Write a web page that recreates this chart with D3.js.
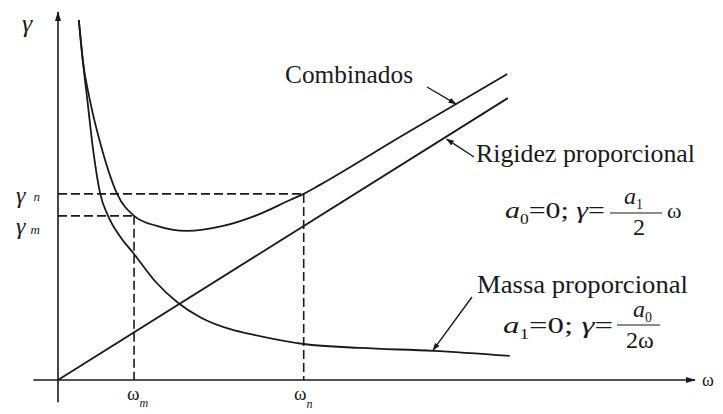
<!DOCTYPE html>
<html>
<head>
<meta charset="utf-8">
<script src="https://cdn.jsdelivr.net/npm/d3@7"></script>
<style>
  html, body { margin: 0; padding: 0; background: #fff; }
  svg { display: block; }
</style>
</head>
<body>
<svg id="chart" width="723" height="414"></svg>
<script>
// Rayleigh damping: mass-proportional, stiffness-proportional and combined ratio vs frequency
const massOmega = [0.32, 0.38, 0.45, 0.54, 0.65, 0.77, 0.95, 1.17, 1.49, 1.85, 2.18, 2.69, 2.95, 3.78, 4.65, 5.77, 6.95];
const massGamma = [10.0, 8.9, 7.8, 6.4, 5.17, 4.56, 4.0, 3.5, 2.75, 2.14, 1.75, 1.39, 1.28, 1.0, 0.89, 0.81, 0.67];

const combOmega = [0.32, 0.38, 0.49, 0.68, 0.91, 1.17, 1.52, 1.98, 2.54, 3.06, 3.57, 3.78, 4.03, 5.26, 6.91];
const combGamma = [10.0, 8.9, 7.78, 6.39, 5.17, 4.56, 4.28, 4.14, 4.28, 4.58, 5.0, 5.17, 5.42, 6.75, 8.5];

const stiffOmega = [0, 6.92];
const stiffGamma = [0, 7.83];

// reference frequencies and damping values
const omegaM = 1.17, omegaN = 3.78;
const gammaM = 4.56, gammaN = 5.17;

const svg = d3.select("#chart");
const ink = "#1a1a1a";
const serif = "'Liberation Serif', 'Times New Roman', Tinos, 'Noto Serif', 'DejaVu Serif', serif";

const x = d3.scaleLinear().domain([0, 10]).range([58, 708]);
const y = d3.scaleLinear().domain([0, 10]).range([380, 20]);

const defs = svg.append("defs");
defs.append("marker")
  .attr("id", "tip").attr("viewBox", "0 0 10 10")
  .attr("refX", 9).attr("refY", 5)
  .attr("markerWidth", 8).attr("markerHeight", 8)
  .attr("markerUnits", "userSpaceOnUse")
  .attr("orient", "auto")
  .append("path").attr("d", "M0,1.5 L10,5 L0,8.5 Z").attr("fill", ink);

defs.append("marker")
  .attr("id", "axisTip").attr("viewBox", "0 0 10 10")
  .attr("refX", 9).attr("refY", 5)
  .attr("markerWidth", 10).attr("markerHeight", 10)
  .attr("markerUnits", "userSpaceOnUse")
  .attr("orient", "auto")
  .append("path").attr("d", "M0,2 L10,5 L0,8 Z").attr("fill", ink);

// axes
svg.append("line")
  .attr("x1", x(-0.38)).attr("y1", y(0)).attr("x2", x(9.8)).attr("y2", y(0))
  .attr("stroke", ink).attr("stroke-width", 1.6).attr("marker-end", "url(#axisTip)");
svg.append("line")
  .attr("x1", x(0)).attr("y1", y(-0.62)).attr("x2", x(0)).attr("y2", y(10.22))
  .attr("stroke", ink).attr("stroke-width", 1.6).attr("marker-end", "url(#axisTip)");

// dashed guides
const dash = "9,4";
const guides = [
  [0, gammaN, omegaN, gammaN],
  [omegaN, gammaN, omegaN, 0],
  [0, gammaM, omegaM, gammaM],
  [omegaM, gammaM, omegaM, 0]
];
svg.selectAll("line.guide").data(guides).enter().append("line")
  .attr("class", "guide")
  .attr("x1", d => x(d[0])).attr("y1", d => y(d[1]))
  .attr("x2", d => x(d[2])).attr("y2", d => y(d[3]))
  .attr("stroke", ink).attr("stroke-width", 1.6).attr("stroke-dasharray", dash);

// curves
const line = d3.line().x(d => x(d[0])).y(d => y(d[1])).curve(d3.curveMonotoneX);
const zip = (a, b) => a.map((v, i) => [v, b[i]]);

svg.append("path").datum(zip(massOmega, massGamma)).attr("d", line)
  .attr("fill", "none").attr("stroke", ink).attr("stroke-width", 1.8);
svg.append("path").datum(zip(combOmega, combGamma)).attr("d", line)
  .attr("fill", "none").attr("stroke", ink).attr("stroke-width", 1.8);
svg.append("path").datum(zip(stiffOmega, stiffGamma)).attr("d", d3.line().x(d => x(d[0])).y(d => y(d[1])))
  .attr("fill", "none").attr("stroke", ink).attr("stroke-width", 1.8);

// leader arrows: start in pixels at the label, tip on the curve (data units)
const leaders = [
  { from: [427, 87], to: [6.12, 7.67] },
  { from: [474, 157], to: [5.98, 6.69] },
  { from: [472, 297], to: [5.77, 0.83] }
];
svg.selectAll("line.leader").data(leaders).enter().append("line")
  .attr("class", "leader")
  .attr("x1", d => d.from[0]).attr("y1", d => d.from[1])
  .attr("x2", d => x(d.to[0])).attr("y2", d => y(d.to[1]))
  .attr("stroke", ink).attr("stroke-width", 1.4).attr("marker-end", "url(#tip)");

// labels
function label(px, py, size, parts, width) {
  const t = svg.append("text").attr("x", px).attr("y", py)
    .attr("font-size", size).attr("font-family", serif).attr("fill", ink);
  parts.forEach(p => {
    const s = t.append("tspan").text(p.t);
    if (p.i) s.attr("font-style", "italic");
    if (p.s) s.attr("font-size", p.s);
    if (p.dy) s.attr("dy", p.dy);
    if (p.dx) s.attr("dx", p.dx);
  });
  if (width) t.attr("textLength", width).attr("lengthAdjust", "spacingAndGlyphs");
  return t;
}

label(285, 83, 25, [{ t: "Combinados" }], 128);
label(476, 162, 25, [{ t: "Rigidez proporcional" }], 219);
label(477, 293, 25, [{ t: "Massa proporcional" }], 211);

// axis names
label(22, 32, 26, [{ t: "γ", i: true }]);
label(702, 386, 18, [{ t: "ω" }]);

// guide names
label(16, 203, 24, [{ t: "γ", i: true }, { t: "n", i: true, s: 13, dx: 8, dy: -2 }]);
label(16, 234, 24, [{ t: "γ", i: true }, { t: "m", i: true, s: 13, dx: 5 }]);
label(127, 400, 19, [{ t: "ω" }, { t: "m", i: true, s: 12, dy: 7 }]);
label(294, 400, 19, [{ t: "ω" }, { t: "n", i: true, s: 12, dy: 8 }]);

// stiffness-proportional formula
label(505, 218, 24, [{ t: "a", i: true }, { t: "0", s: 14, dy: 6 }, { t: "=0; ", dy: -6 }, { t: "γ", i: true }, { t: "=" }], 100);
svg.append("line").attr("x1", 610).attr("x2", 662).attr("y1", 213).attr("y2", 213)
  .attr("stroke", ink).attr("stroke-width", 1.2);
label(624, 204, 24, [{ t: "a", i: true }, { t: "1", s: 14, dy: 5 }]);
label(633, 235, 24, [{ t: "2" }]);
label(667, 218, 22, [{ t: "ω" }]);

// mass-proportional formula
label(503, 333, 24, [{ t: "a", i: true }, { t: "1", s: 14, dy: 6 }, { t: "=0; ", dy: -6 }, { t: "γ", i: true }, { t: "=" }], 110);
svg.append("line").attr("x1", 617).attr("x2", 660).attr("y1", 325).attr("y2", 325)
  .attr("stroke", ink).attr("stroke-width", 1.2);
label(633, 317, 24, [{ t: "a", i: true }, { t: "0", s: 14, dy: 5 }]);
label(626, 348, 24, [{ t: "2ω" }]);
</script>
</body>
</html>
